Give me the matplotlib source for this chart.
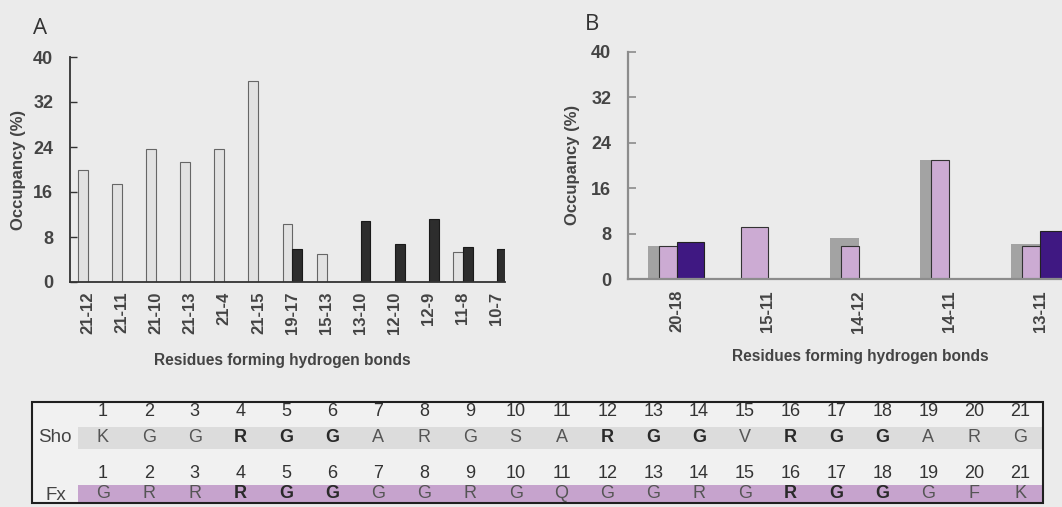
import matplotlib
matplotlib.use('Agg')
import matplotlib.pyplot as plt
import numpy as np
from matplotlib.patches import Rectangle

plt.rcParams['font.family'] = ['Liberation Sans', 'DejaVu Sans']

# ---------------- data ----------------
a_labels = ['21-12', '21-11', '21-10', '21-13', '21-4', '21-15', '19-17',
            '15-13', '13-10', '12-10', '12-9', '11-8', '10-7']
a_light = [19.9, 17.5, 23.6, 21.4, 23.6, 35.7, 10.4, 5.0, 0, 0, 0, 5.4, 0]
a_dark = [0, 0, 0, 0, 0, 0, 5.8, 0, 10.8, 6.7, 11.2, 6.2, 5.8]

b_labels = ['20-18', '15-11', '14-12', '14-11', '13-11']
b_grey = [5.9, 0, 7.2, 21.0, 6.1]
b_light = [5.9, 9.1, 5.8, 20.9, 5.9]
b_dark = [6.5, 0, 0, 0, 8.4]

y_ticks = [0, 8, 16, 24, 32, 40]

positions = list(range(1, 22))
sho_seq = list("KGGRGGARGSARGGVRGGARG")
fx_seq = list("GRRRGGGGRGQGGRGRGGGFK")
sho_bold = [4, 5, 6, 12, 13, 14, 16, 17, 18]
fx_bold = [4, 5, 6, 16, 17, 18]

# ---------------- figure ----------------
W, H = 1062, 507
BG = '#ebebeb'
fig = plt.figure(figsize=(W / 100, H / 100), dpi=100, facecolor=BG)


def px_axes(x0, y_top, x1, y_bot):
    return [x0 / W, (H - y_bot) / H, (x1 - x0) / W, (y_bot - y_top) / H]


# overlay axes in pixel coords for table and labels
ov = fig.add_axes([0, 0, 1, 1], zorder=0)
ov.set_xlim(0, W)
ov.set_ylim(H, 0)
ov.axis('off')

xtick_font = dict(fontsize=12, fontweight='bold', color='#444444')
ytick_font = dict(fontsize=13, fontweight='bold', color='#444444')

# ---------- Panel A ----------
axA = fig.add_axes(px_axes(70, 57, 505, 282), zorder=2)
axA.set_facecolor('none')
xa = np.arange(len(a_labels))
wa = 0.29
axA.bar(xa - wa / 2, a_light, width=wa, color='#e2e2e2', edgecolor='#666666', linewidth=0.8)
axA.bar(xa + wa / 2, a_dark, width=wa, color='#2d2d2d', edgecolor='#1a1a1a', linewidth=0.8)
axA.set_xlim(-0.53, 12.24)
axA.set_ylim(0, 40)
axA.set_yticks(y_ticks)
axA.set_xticks(xa)
axA.set_xticklabels(a_labels, rotation=90)
for s in ['top', 'right']:
    axA.spines[s].set_visible(False)
for s in ['left', 'bottom']:
    axA.spines[s].set_color('#333333')
    axA.spines[s].set_linewidth(1.3)
axA.tick_params(axis='y', direction='in', length=5, width=1, color='#333333', pad=12)
axA.tick_params(axis='x', length=0, pad=7)
for lab in axA.get_xticklabels():
    lab.set(**xtick_font)
for lab in axA.get_yticklabels():
    lab.set(**ytick_font)

# ---------- Panel B ----------
xb = np.arange(len(b_labels))
unit = 90.75
x_left_px = 628
xlimB = (-0.54, 5.0)
axB = fig.add_axes(px_axes(x_left_px, 52, x_left_px + (xlimB[1] - xlimB[0]) * unit, 279), zorder=2)
axB.set_facecolor('none')
wg = 29 / unit
wd = 27 / unit
wl = [18 / unit if g > 0 else 27 / unit for g in b_grey]
axB.bar(xb - wg / 2, b_grey, width=wg, color='#a3a3a3', edgecolor='none')
axB.bar(xb - np.array(wl) / 2, b_light, width=wl, color='#ccabd3', edgecolor='#333333', linewidth=0.8)
axB.bar(xb + wd / 2, b_dark, width=wd, color='#3f1882', edgecolor='#222222', linewidth=0.8)
axB.set_xlim(*xlimB)
axB.set_ylim(0, 40)
axB.set_yticks(y_ticks)
axB.set_xticks(xb)
axB.set_xticklabels(b_labels, rotation=90)
for s in ['top', 'right']:
    axB.spines[s].set_visible(False)
for s in ['left', 'bottom']:
    axB.spines[s].set_color('#8c8c8c')
    axB.spines[s].set_linewidth(1.6)
axB.tick_params(axis='y', direction='in', length=6, width=1.2, color='#8c8c8c', pad=12)
axB.tick_params(axis='x', length=0, pad=8)
for lab in axB.get_xticklabels():
    lab.set(**xtick_font)
for lab in axB.get_yticklabels():
    lab.set(**ytick_font)

# ---------- labels ----------
ov.text(40, 29, 'A', fontsize=16, color='#333333', family='Open Sans', ha='center', va='center')
ov.text(592, 25, 'B', fontsize=16, color='#333333', family='Open Sans', ha='center', va='center')
ov.text(19, 170, 'Occupancy (%)', rotation=90, ha='center', va='center', fontsize=12,
        fontweight='bold', color='#444444')
ov.text(572, 165, 'Occupancy (%)', rotation=90, ha='center', va='center', fontsize=12,
        fontweight='bold', color='#444444')
ov.text(282, 360, 'Residues forming hydrogen bonds', ha='center', va='center', fontsize=11.2,
        fontweight='bold', color='#444444')
ov.text(860, 356, 'Residues forming hydrogen bonds', ha='center', va='center', fontsize=11.2,
        fontweight='bold', color='#444444')

# ---------- sequence table ----------
box_x0, box_y0, box_x1, box_y1 = 32, 402, 1043, 503
ov.add_patch(Rectangle((box_x0, box_y0), box_x1 - box_x0, box_y1 - box_y0,
                       facecolor='#f1f1f1', edgecolor='none', zorder=1))
ov.add_patch(Rectangle((78, 427), 1042 - 78, 22, facecolor='#dcdcdc', edgecolor='none', zorder=2))
ov.add_patch(Rectangle((78, 485), 1042 - 78, 18, facecolor='#c6a3cd', edgecolor='none', zorder=2))
ov.add_patch(Rectangle((box_x0, box_y0), box_x1 - box_x0, box_y1 - box_y0,
                       facecolor='none', edgecolor='#1f1f1f', linewidth=1.5, zorder=4))

col_x0, col_dx = 103, 45.85
ov.text(55, 437, 'Sho', ha='center', va='center', fontsize=13.5, color='#444444', zorder=5)
ov.text(56, 495, 'Fx', ha='center', va='center', fontsize=13.5, color='#444444', zorder=5)
for p, s_aa, f_aa in zip(positions, sho_seq, fx_seq):
    cx = col_x0 + (p - 1) * col_dx
    ov.text(cx, 412, str(p), ha='center', va='center', fontsize=13, color='#333333', zorder=5)
    ov.text(cx, 473, str(p), ha='center', va='center', fontsize=13, color='#333333', zorder=5)
    sb = p in sho_bold
    fb = p in fx_bold
    ov.text(cx, 437, s_aa, ha='center', va='center', fontsize=13,
            fontweight='bold' if sb else 'normal', color='#2a2a2a' if sb else '#555555', zorder=5)
    ov.text(cx, 494, f_aa, ha='center', va='center', fontsize=13,
            fontweight='bold' if fb else 'normal', color='#2a2a2a' if fb else '#555555', zorder=5)

fig.savefig('out.png', dpi=100, facecolor=BG)
